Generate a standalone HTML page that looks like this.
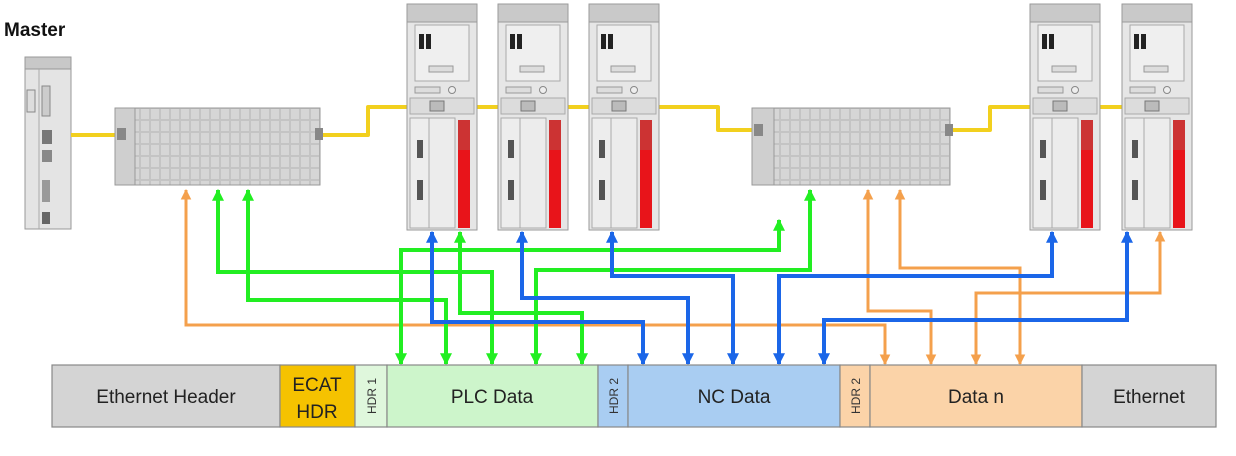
<!DOCTYPE html>
<html><head><meta charset="utf-8"><style>
body{margin:0;background:#fff;width:1236px;height:456px;overflow:hidden}
svg{display:block}
text{font-family:"Liberation Sans",Arial,sans-serif}
</style></head><body>
<svg width="1236" height="456" viewBox="0 0 1236 456" xmlns="http://www.w3.org/2000/svg">
<defs>
<pattern id="grid" x="0" y="0" width="10" height="12" patternUnits="userSpaceOnUse">
<rect width="10" height="12" fill="#c4c4c4"/>
<rect x="1" y="1" width="8" height="10" fill="#d6d6d6"/>
</pattern>
<marker id="ag" viewBox="0 0 10 10" refX="9" refY="5" markerWidth="3" markerHeight="3" orient="auto-start-reverse"><path d="M0,0L10,5L0,10z" fill="#22ee22"/></marker>
<marker id="ab" viewBox="0 0 10 10" refX="9" refY="5" markerWidth="3" markerHeight="3" orient="auto-start-reverse"><path d="M0,0L10,5L0,10z" fill="#1b66e8"/></marker>
<marker id="ao" viewBox="0 0 10 10" refX="9" refY="5" markerWidth="3.6" markerHeight="3.6" orient="auto-start-reverse"><path d="M0,0L10,5L0,10z" fill="#f4a04c"/></marker>
<g id="slave">
<rect x="0" y="4" width="70" height="226" fill="#e6e6e6" stroke="#9a9a9a"/>
<rect x="0" y="4" width="70" height="18" fill="#c9c9c9" stroke="#9a9a9a"/>
<rect x="8" y="25" width="54" height="56" fill="#efefef" stroke="#aaa"/>
<rect x="12" y="34" width="5" height="15" fill="#222"/>
<rect x="19" y="34" width="5" height="15" fill="#222"/>
<rect x="22" y="66" width="24" height="6" fill="#ddd" stroke="#999"/>
<rect x="8" y="87" width="25" height="6" fill="#ddd" stroke="#999"/>
<circle cx="45" cy="90" r="3.5" fill="#eee" stroke="#888"/>
<rect x="3" y="98" width="64" height="16" fill="#dcdcdc" stroke="#aaa"/>
<rect x="3" y="118" width="19" height="110" fill="#ededed" stroke="#aaa"/>
<rect x="22" y="118" width="26" height="110" fill="#ececec" stroke="#aaa"/>
<rect x="10" y="140" width="6" height="18" fill="#555"/>
<rect x="10" y="180" width="6" height="20" fill="#555"/>
<rect x="51" y="120" width="12" height="108" fill="#e8141a"/>
<rect x="51" y="120" width="12" height="30" fill="#cc3333"/>
</g>
</defs>

<!-- Master -->
<text x="4" y="36" font-size="19" font-weight="bold" fill="#111">Master</text>
<rect x="25" y="57" width="46" height="172" fill="#e4e4e4" stroke="#999"/>
<rect x="25" y="57" width="46" height="12" fill="#c8c8c8" stroke="#999"/>
<line x1="39" y1="69" x2="39" y2="229" stroke="#aaa"/>
<rect x="27" y="90" width="8" height="22" fill="#ddd" stroke="#888"/>
<rect x="42" y="86" width="8" height="30" fill="#ccc" stroke="#888"/>
<rect x="42" y="130" width="10" height="14" fill="#777"/>
<rect x="42" y="150" width="10" height="12" fill="#888"/>
<rect x="42" y="180" width="8" height="22" fill="#999"/>
<rect x="42" y="212" width="8" height="12" fill="#666"/>

<!-- yellow cable -->
<g fill="none" stroke="#f2d01e" stroke-width="4" stroke-linejoin="round">
<path d="M71,135 H118"/>
<path d="M318,135 H368 V107 H718 V130 H754"/>
<path d="M948,130 H990 V107 H1180"/>
</g>

<!-- IO blocks -->
<rect x="115" y="108" width="205" height="77" fill="url(#grid)" stroke="#999"/>
<rect x="115" y="108" width="20" height="77" fill="#cfcfcf" stroke="#999"/>
<rect x="117" y="128" width="9" height="12" fill="#888"/>
<rect x="315" y="128" width="8" height="12" fill="#888"/>
<rect x="752" y="108" width="198" height="77" fill="url(#grid)" stroke="#999"/>
<rect x="752" y="108" width="22" height="77" fill="#cfcfcf" stroke="#999"/>
<rect x="754" y="124" width="9" height="12" fill="#888"/>
<rect x="945" y="124" width="8" height="12" fill="#888"/>

<!-- slaves -->
<use href="#slave" x="407"/>
<use href="#slave" x="498"/>
<use href="#slave" x="589"/>
<use href="#slave" x="1030"/>
<use href="#slave" x="1122"/>
<g fill="#bbb" stroke="#777">
<rect x="430" y="101" width="14" height="10"/><rect x="521" y="101" width="14" height="10"/><rect x="612" y="101" width="14" height="10"/>
<rect x="1053" y="101" width="14" height="10"/><rect x="1145" y="101" width="14" height="10"/>
</g>

<!-- orange -->
<g fill="none" stroke="#f4a04c" stroke-width="3" marker-start="url(#ao)" marker-end="url(#ao)">
<path d="M186,190 V325 H885 V364"/>
<path d="M868,190 V311 H931 V364"/>
<path d="M900,190 V268 H1020 V364"/>
<path d="M1160,232 V293 H976 V364"/>
</g>
<!-- green -->
<g fill="none" stroke="#22ee22" stroke-width="4" marker-start="url(#ag)" marker-end="url(#ag)">
<path d="M779,220 V250 H401 V364"/>
<path d="M810,190 V270 H536 V364"/>
<path d="M218,190 V272 H492 V364"/>
<path d="M248,190 V300 H446 V364"/>
<path d="M460,232 V313 H582 V364"/>
</g>
<!-- blue -->
<g fill="none" stroke="#1b66e8" stroke-width="4" marker-start="url(#ab)" marker-end="url(#ab)">
<path d="M432,232 V322 H643 V364"/>
<path d="M522,232 V298 H688 V364"/>
<path d="M612,232 V276 H733 V364"/>
<path d="M1052,232 V276 H779 V364"/>
<path d="M1127,232 V320 H824 V364"/>
</g>

<!-- frame bar -->
<g stroke="#888" stroke-width="1.2">
<rect x="52" y="365" width="228" height="62" fill="#d4d4d4"/>
<rect x="280" y="365" width="75" height="62" fill="#f5c200"/>
<rect x="355" y="365" width="32" height="62" fill="#dff7dc"/>
<rect x="387" y="365" width="211" height="62" fill="#cdf5cb"/>
<rect x="598" y="365" width="30" height="62" fill="#a9cdf2"/>
<rect x="628" y="365" width="212" height="62" fill="#a9cdf2"/>
<rect x="840" y="365" width="30" height="62" fill="#fbd3a8"/>
<rect x="870" y="365" width="212" height="62" fill="#fbd3a8"/>
<rect x="1082" y="365" width="134" height="62" fill="#d4d4d4"/>
</g>
<g font-size="19" fill="#222" text-anchor="middle">
<text x="166" y="403">Ethernet Header</text>
<text x="317" y="391">ECAT</text>
<text x="317" y="418">HDR</text>
<text x="492" y="403">PLC Data</text>
<text x="734" y="403">NC Data</text>
<text x="976" y="403">Data n</text>
<text x="1149" y="403">Ethernet</text>
</g>
<g font-size="12" fill="#333" text-anchor="middle">
<text transform="translate(376,396) rotate(-90)">HDR 1</text>
<text transform="translate(618,396) rotate(-90)">HDR 2</text>
<text transform="translate(860,396) rotate(-90)">HDR 2</text>
</g>
</svg>
</body></html>
